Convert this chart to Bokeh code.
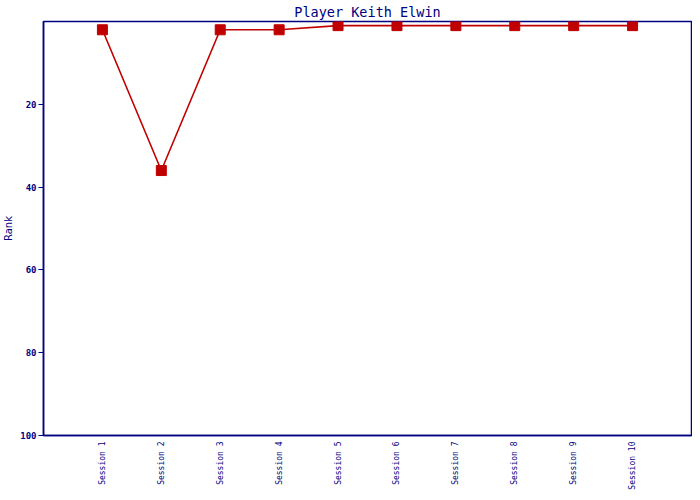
import math
from bokeh.plotting import figure
from bokeh.models import Range1d, FixedTicker
from bokeh.embed import file_html
from bokeh.resources import INLINE

title = "Player Keith Elwin"
sessions = ["Session 1", "Session 2", "Session 3", "Session 4", "Session 5",
            "Session 6", "Session 7", "Session 8", "Session 9", "Session 10"]
ranks = [2, 36, 2, 2, 1, 1, 1, 1, 1, 1]
y_ticks = [20, 40, 60, 80, 100]

BLUE = "#000080"
RED = "#C00000"
FONT = "DejaVu Sans Mono"

xs = list(range(1, len(sessions) + 1))

p = figure(width=692, height=492, output_backend="svg", toolbar_location=None,
           x_range=Range1d(0, len(sessions) + 1), y_range=Range1d(100, 0),
           title=title, min_border_left=20, min_border_right=1,
           min_border_top=4, min_border_bottom=2)

p.title.align = "center"
p.title.text_color = BLUE
p.title.text_font = FONT
p.title.text_font_style = "normal"
p.title.text_font_size = "13.5px"
p.title.standoff = 3
p.title.offset = 0

p.grid.visible = False
p.outline_line_color = BLUE
p.outline_line_width = 1.5
p.outline_line_alpha = 1.0
p.background_fill_color = "white"
p.border_fill_color = "white"

p.xaxis.ticker = FixedTicker(ticks=xs)
p.xaxis.major_label_overrides = {x: s for x, s in zip(xs, sessions)}
p.xaxis.major_label_orientation = math.pi / 2
p.xaxis.major_tick_line_color = None
p.xaxis.major_tick_out = 0
p.xaxis.major_tick_in = 0
p.xaxis.minor_tick_line_color = None
p.xaxis.axis_line_color = BLUE
p.xaxis.axis_line_width = 1.5
p.xaxis.major_label_text_color = BLUE
p.xaxis.major_label_text_font = FONT
p.xaxis.major_label_text_font_size = "8px"
p.xaxis.major_label_standoff = 6

p.yaxis.ticker = FixedTicker(ticks=y_ticks)
p.yaxis.minor_tick_line_color = None
p.yaxis.major_tick_line_color = BLUE
p.yaxis.major_tick_out = 5
p.yaxis.major_tick_in = 0
p.yaxis.axis_line_color = BLUE
p.yaxis.axis_line_width = 1.5
p.yaxis.major_label_text_color = BLUE
p.yaxis.major_label_text_font = FONT
p.yaxis.major_label_text_font_style = "bold"
p.yaxis.major_label_text_font_size = "9px"
p.yaxis.major_label_standoff = 2
p.yaxis.axis_label = "Rank"
p.yaxis.axis_label_text_color = BLUE
p.yaxis.axis_label_text_font = "DejaVu Sans"
p.yaxis.axis_label_text_font_style = "normal"
p.yaxis.axis_label_text_font_size = "10px"
p.yaxis.axis_label_standoff = 3

p.line(xs, ranks, line_color=RED, line_width=1.6)
p.scatter(xs, ranks, marker="square", size=10, fill_color=RED, line_color=RED)

open("out.html", "w").write(file_html(p, INLINE))
